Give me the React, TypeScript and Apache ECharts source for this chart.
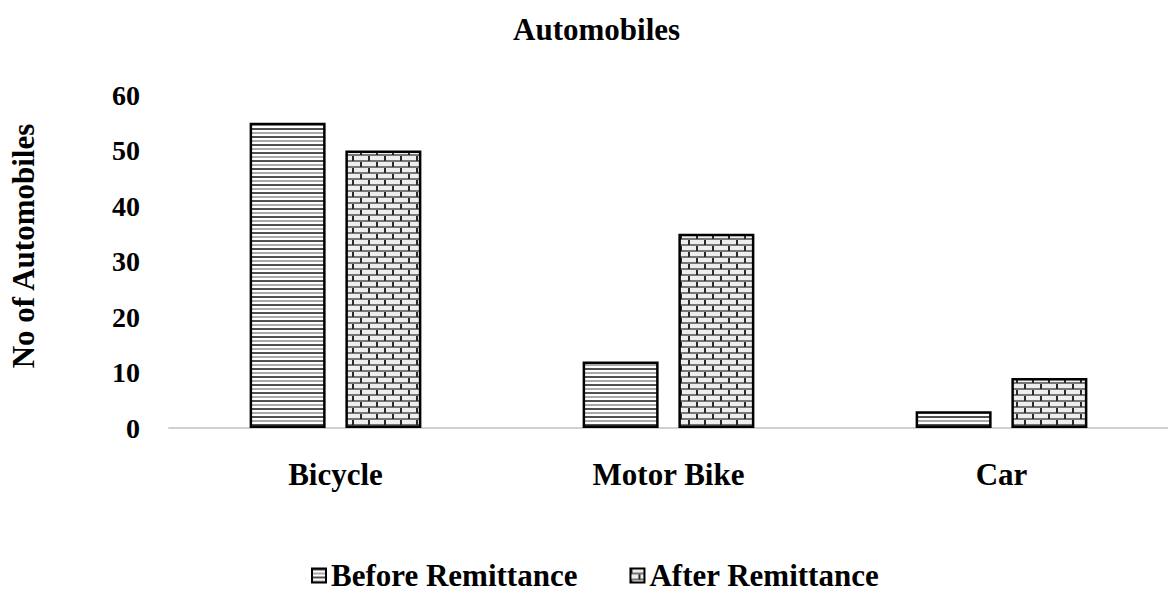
import React, { useEffect, useRef } from "react";
import * as echarts from "echarts";

const categories = ["Bicycle", "Motor Bike", "Car"];
const beforeValues = [55, 12, 3];
const afterValues = [50, 35, 9];
const seriesNames = ["Before Remittance", "After Remittance"];
const yAxisTitle = "No of Automobiles";

function stripeUrl(): string {
  const c = document.createElement("canvas");
  c.width = 8;
  c.height = 8;
  const ctx = c.getContext("2d")!;
  ctx.fillStyle = "#ffffff";
  ctx.fillRect(0, 0, 8, 8);
  ctx.fillStyle = "#505050";
  ctx.fillRect(0, 0, 8, 2);
  ctx.fillStyle = "#a8a8a8";
  ctx.fillRect(0, 4, 8, 2);
  return c.toDataURL();
}

function brickUrl(): string {
  const c = document.createElement("canvas");
  c.width = 16;
  c.height = 12;
  const ctx = c.getContext("2d")!;
  ctx.fillStyle = "#eeeeee";
  ctx.fillRect(0, 0, 16, 12);
  ctx.fillStyle = "#777777";
  ctx.fillRect(0, 4, 16, 2);
  ctx.fillRect(0, 10, 16, 2);
  ctx.fillStyle = "#2a2a2a";
  ctx.fillRect(0, 0, 2, 5);
  ctx.fillRect(8, 6, 2, 5);
  return c.toDataURL();
}

export default function App() {
  const ref = useRef<HTMLDivElement>(null);
  useEffect(() => {
    if (!ref.current) return;
    const chart = echarts.init(ref.current, undefined, { renderer: "svg" });
    const stripe = { image: stripeUrl(), repeat: "repeat" } as any;
    const brick = { image: brickUrl(), repeat: "repeat" } as any;
    const font = "Liberation Serif";
    chart.setOption({
      animation: false,
      backgroundColor: "#ffffff",
      title: {
        text: "Automobiles",
        left: 508,
        top: 9,
        textStyle: { fontFamily: font, fontWeight: "bold", fontSize: 31, color: "#000" },
      },
      legend: {
        bottom: 8,
        left: 306,
        itemWidth: 14,
        itemHeight: 14,
        itemGap: 52,
        itemTextGap: 11,
        icon: "rect",
        textStyle: { fontFamily: font, fontWeight: "bold", fontSize: 31, color: "#000" },
        data: seriesNames,
      },
      graphic: [
        {
          type: "text",
          x: 23,
          y: 246,
          rotation: Math.PI / 2,
          style: {
            text: yAxisTitle,
            fontFamily: font,
            fontWeight: "bold",
            fontSize: 31,
            fill: "#000",
            align: "center",
            verticalAlign: "middle",
          },
        },
      ],
      grid: { left: 169, right: 0, top: 95, bottom: 176, outerBoundsMode: "none", containLabel: false },
      xAxis: {
        type: "category",
        data: categories,
        axisTick: { show: false },
        axisLine: { lineStyle: { color: "#d0d0d0", width: 2 } },
        axisLabel: { fontFamily: font, fontWeight: "bold", fontSize: 31, color: "#000", margin: 31 },
      },
      yAxis: {
        type: "value",
        min: 0,
        max: 60,
        interval: 10,
        splitLine: { show: false },
        axisLine: { show: false },
        axisLabel: { fontFamily: font, fontWeight: "bold", fontSize: 28, color: "#000", margin: 29 },
      },
      series: [
        {
          name: seriesNames[0],
          type: "bar",
          data: beforeValues,
          barWidth: 76,
          barGap: "26%",
          itemStyle: { color: stripe, borderColor: "#000", borderWidth: 2.5 },
        },
        {
          name: seriesNames[1],
          type: "bar",
          data: afterValues,
          barWidth: 76,
          barGap: "26%",
          itemStyle: { color: brick, borderColor: "#000", borderWidth: 2.5 },
        },
      ],
    });
    return () => chart.dispose();
  }, []);
  return <div ref={ref} style={{ width: 1168, height: 604, position: "absolute", left: 0, top: 0 }} />;
}
